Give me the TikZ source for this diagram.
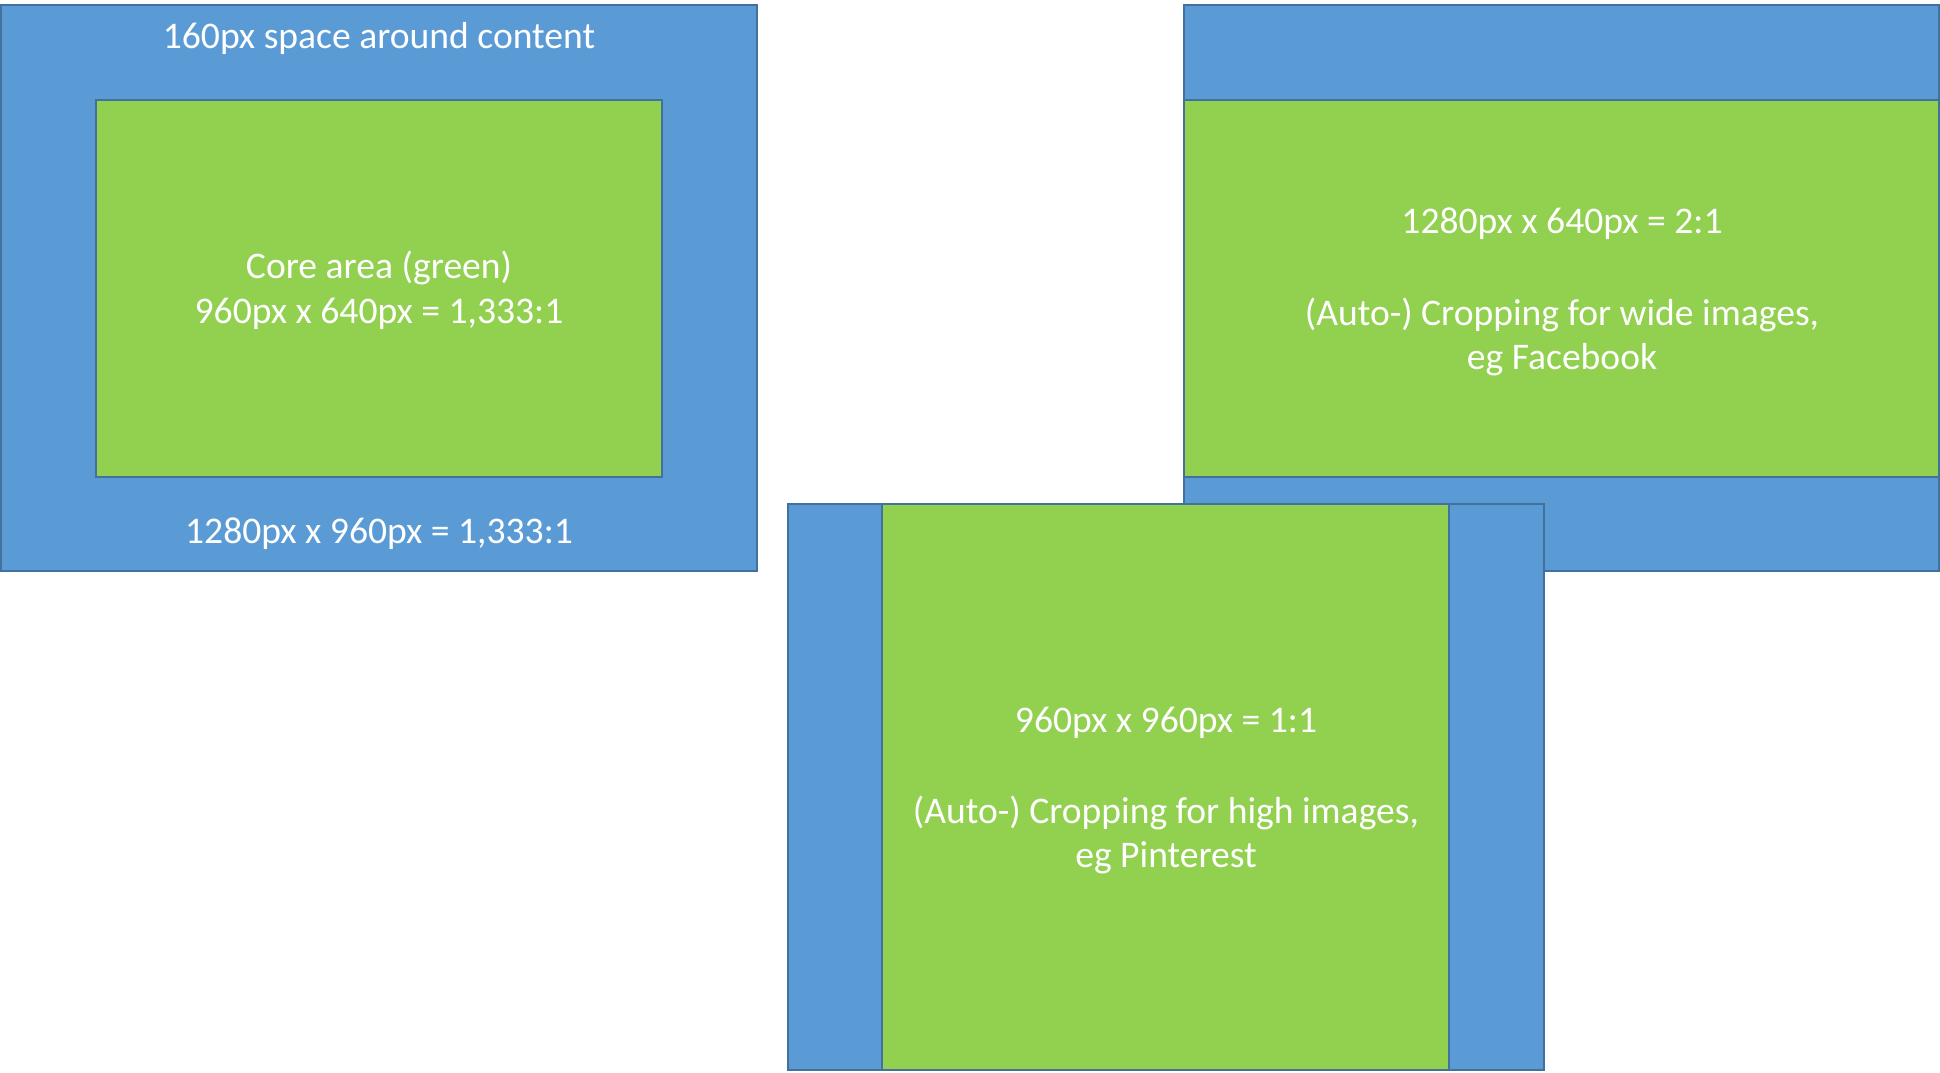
\documentclass[tikz,border=0pt]{standalone}
\usepackage{fontspec}
\setmainfont{Carlito}
\definecolor{bluefill}{HTML}{5B9BD5}
\definecolor{greenfill}{HTML}{92D050}
\definecolor{edgeblue}{HTML}{41719C}
\begin{document}
\begin{tikzpicture}[x=1pt,y=-1pt,
  panel/.style={draw=edgeblue, line width=1.6pt, fill=bluefill, anchor=north west, inner sep=0pt, outer sep=0pt},
  core/.style={draw=edgeblue, line width=1.6pt, fill=greenfill, anchor=north west, inner sep=0pt, outer sep=0pt},
  lbl/.style={text=white, font=\fontsize{37.6}{45}\selectfont, anchor=base, inner sep=0pt}]
\useasboundingbox (0,0) rectangle (1940,1072);
% left: 4:3 with margin
\node[panel, minimum width=756pt, minimum height=566pt] (L) at (1,5) {};
\node[core, minimum width=566pt, minimum height=377pt] (Lg) at (96,100) {};
\node[lbl] (Lt1) at (379,48) {160px space around content};
\node[lbl] (Lt2) at (379,278) {Core area (green)};
\node[lbl] (Lt3) at (379,323) {960px x 640px = 1,333:1};
\node[lbl] (Lt4) at (379,543) {1280px x 960px = 1,333:1};
% right: 2:1
\node[panel, minimum width=755pt, minimum height=566pt] (R) at (1184,5) {};
\node[core, minimum width=755pt, minimum height=377pt] (Rg) at (1184,100) {};
\node[lbl] (Rt1) at (1562,233) {1280px x 640px = 2:1};
\node[lbl] (Rt2) at (1562,325) {(Auto-) Cropping for wide images,};
\node[lbl] (Rt3) at (1562,369) {eg Facebook};
% bottom: 1:1
\node[panel, minimum width=756pt, minimum height=566pt] (B) at (788,504) {};
\node[core, minimum width=567pt, minimum height=566pt] (Bg) at (882,504) {};
\node[lbl] (Bt1) at (1166,732) {960px x 960px = 1:1};
\node[lbl] (Bt2) at (1166,823) {(Auto-) Cropping for high images,};
\node[lbl] (Bt3) at (1166,867) {eg Pinterest};
\end{tikzpicture}
\end{document}
